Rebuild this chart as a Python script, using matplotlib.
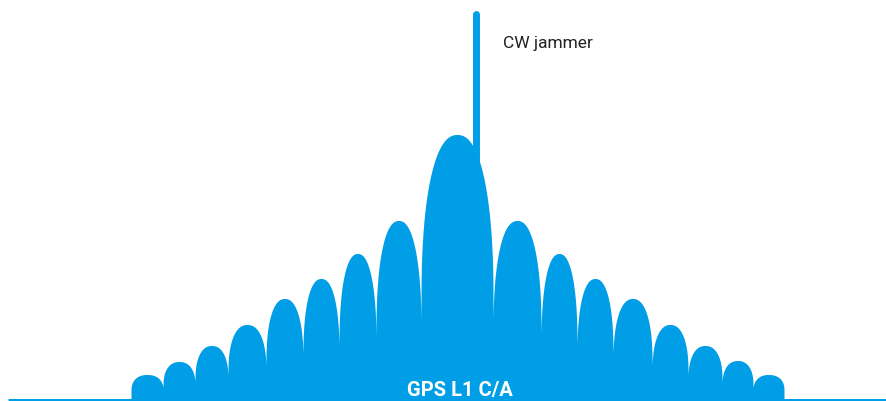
import numpy as np
import matplotlib
matplotlib.use("Agg")
import matplotlib.pyplot as plt

# ---- data (x = frequency position, y = level above floor) ----
lobe_edges = [131, 163, 195, 228, 266, 303, 339, 376, 421, 493,
              541, 577, 613, 652, 688, 722, 753, 784]
lobe_peaks = [25, 38, 54, 75, 101, 121, 146, 179, 265,
              179, 146, 121, 101, 75, 54, 39, 25]
jammer_freq = 476.5
jammer_level = 386
signal_label = "GPS L1 C/A"
jammer_label = "CW jammer"

BLUE = "#009EE6"
WALL = 0.38   # fraction of lobe height reached by the vertical walls at the nulls
EXP = 2.3     # superellipse exponent of the lobe tops

fig = plt.figure(figsize=(8.86, 4.02), dpi=100)
ax = fig.add_axes([0, 0, 1, 1])
ax.set_xlim(0, 886)
ax.set_ylim(-1.5, 400.5)
ax.axis("off")

# spectrum lobes
x = np.linspace(lobe_edges[0], lobe_edges[-1], 8000)
y = np.zeros_like(x)
for left, right, peak in zip(lobe_edges[:-1], lobe_edges[1:], lobe_peaks):
    c = 0.5 * (left + right)
    hw = 0.5 * (right - left)
    u = np.abs((x - c) / hw)
    inside = u <= 1
    val = np.zeros_like(x)
    val[inside] = peak * (WALL + (1 - WALL) * (1 - u[inside] ** EXP) ** (1 / EXP))
    y = np.maximum(y, val)
ax.fill_between(x, 0, y, color=BLUE, linewidth=0, zorder=2)

# floor line
ax.plot([8, 886], [0, 0], color=BLUE, linewidth=2.2, solid_capstyle="butt", zorder=3)

# CW jammer
ax.plot([jammer_freq, jammer_freq], [150, jammer_level], color=BLUE,
        linewidth=5.0, solid_capstyle="round", zorder=1)
ax.text(503, 352.2, jammer_label, fontsize=12.5, family=["Roboto", "DejaVu Sans"],
        color="#222222", ha="left", va="baseline")

ax.text(460, 4.5, signal_label, fontsize=14.5, family=["Roboto", "DejaVu Sans"],
        fontweight="bold", color="white", ha="center", va="baseline", zorder=4)

fig.savefig("out.png", dpi=100)
